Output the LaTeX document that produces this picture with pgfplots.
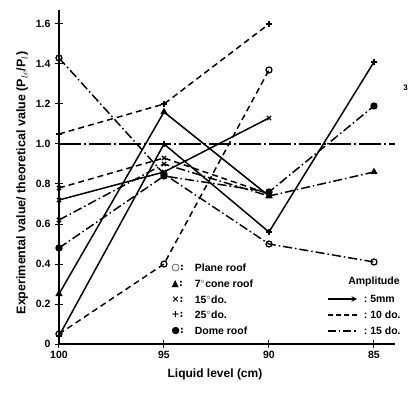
\documentclass[border=0pt]{standalone}
\usepackage{pgfplots}
\pgfplotsset{compat=1.18}
\usepackage{fontspec}
\setmainfont{Liberation Sans}
\newfontfamily\symfont{DejaVu Sans}
\tikzset{
  dd/.style={dash pattern=on 9pt off 3pt on 1.5pt off 3pt},
  ds/.style={dash pattern=on 6pt off 4pt},
}
\begin{document}
\begin{tikzpicture}
\begin{axis}[name=ax, scale only axis, width=336pt, height=334pt,
  xmin=84, xmax=100, x dir=reverse, ymin=0, ymax=1.67,
  axis x line*=bottom, axis y line*=left,
  axis line style={-, line width=1.6pt},
  xtick={100,95,90,85}, xticklabels={100,95,90,85},
  ytick={0,0.2,0.4,0.6,0.8,1.0,1.2,1.4,1.6},
  yticklabels={0,0.2,0.4,0.6,0.8,1.0,1.2,1.4,1.6},
  tick align=center, major tick length=8pt,
  tick style={black, line width=1pt},
  /pgf/number format/assume math mode=true,
  ticklabel style={font=\bfseries\fontsize{10.5}{10.5}\selectfont},
  yticklabel style={xshift=-1pt},
  xlabel={Liquid level (cm)},
  ylabel={Experimental value/ theoretical value (P$_{le}$/P$_{l}$)},
  xlabel style={font=\bfseries\fontsize{12}{12}\selectfont, xshift=-12pt, yshift=-3pt},
  ylabel style={font=\bfseries\fontsize{12.5}{12.5}\selectfont, yshift=1pt, xshift=-6pt},
  clip=false,
  every axis plot/.append style={black, line width=1.5pt, mark size=3pt, mark options={solid, line width=1.3pt}},
]
% reference line at 1.0
\addplot[line width=1.3pt, dash pattern=on 22pt off 3pt on 2pt off 3pt, mark=none] coordinates {(100,1.0) (84,1.0)};
% plane roof, 15 mm
\addplot[dd, mark=o] coordinates {(100,1.43) (95,0.85) (90,0.50) (85,0.41)};
% plane roof, 10 mm
\addplot[ds, mark=o] coordinates {(100,0.05) (95,0.40) (90,1.37)};
% 7 deg cone roof, 5 mm
\addplot[solid, mark=triangle*] coordinates {(100,0.25) (95,1.16) (90,0.74)};
\addplot[dd, mark=triangle*] coordinates {(90,0.74) (85,0.86)};
% 25 deg, 10 mm
\addplot[ds, mark=+] coordinates {(100,1.05) (95,1.20) (90,1.60)};
% 25 deg, 5 mm
\addplot[solid, mark=+] coordinates {(100,0.04) (95,1.00) (90,0.56) (85,1.41)};
% dome roof, 15 mm
\addplot[dd, mark=*] coordinates {(100,0.48) (95,0.84) (90,0.76) (85,1.19)};
% 15 deg, 5 mm
\addplot[solid, mark=x] coordinates {(100,0.72) (95,0.86) (90,1.13)};
% 15 deg, 10 mm
\addplot[ds, mark=x] coordinates {(100,0.78) (95,0.93) (90,0.75)};
% 15 deg, 15 mm
\addplot[dd, mark=x] coordinates {(100,0.62) (95,0.90) (90,0.74)};

% legend: roof types
\node[anchor=west, font=\symfont\bfseries\fontsize{9.5}{9.5}\selectfont] at (axis cs:94.8,0.38) {○:};
\node[anchor=west, font=\symfont\bfseries\fontsize{9.5}{9.5}\selectfont] at (axis cs:94.8,0.30) {▲:};
\node[anchor=west, font=\symfont\bfseries\fontsize{9.5}{9.5}\selectfont] at (axis cs:94.8,0.22) {×:};
\node[anchor=west, font=\symfont\bfseries\fontsize{9.5}{9.5}\selectfont] at (axis cs:94.8,0.145) {+:};
\node[anchor=west, font=\symfont\bfseries\fontsize{9.5}{9.5}\selectfont] at (axis cs:94.8,0.065) {●:};
\node[anchor=west, font=\bfseries\fontsize{10.5}{10.5}\selectfont] at (axis cs:93.7,0.38) {Plane roof};
\node[anchor=west, font=\bfseries\fontsize{10.5}{10.5}\selectfont] at (axis cs:93.7,0.30) {7$^{\circ}$cone roof};
\node[anchor=west, font=\bfseries\fontsize{10.5}{10.5}\selectfont] at (axis cs:93.7,0.22) {15$^{\circ}$do.};
\node[anchor=west, font=\bfseries\fontsize{10.5}{10.5}\selectfont] at (axis cs:93.7,0.145) {25$^{\circ}$do.};
\node[anchor=west, font=\bfseries\fontsize{10.5}{10.5}\selectfont] at (axis cs:93.7,0.065) {Dome roof};
% legend: amplitude
\node[font=\bfseries\fontsize{10.5}{10.5}\selectfont] at (axis cs:85.0,0.31) {Amplitude};
\draw[line width=1.5pt, -stealth] (axis cs:87.2,0.225) -- (axis cs:85.8,0.225);
\draw[line width=1.5pt, dash pattern=on 5pt off 3pt] (axis cs:87.2,0.145) -- (axis cs:85.8,0.145);
\draw[line width=1.5pt, dash pattern=on 8pt off 3pt on 1.5pt off 3pt] (axis cs:87.2,0.065) -- (axis cs:85.8,0.065);
\node[anchor=west, font=\bfseries\fontsize{10.5}{10.5}\selectfont] at (axis cs:85.65,0.225) {:\ 5mm};
\node[anchor=west, font=\bfseries\fontsize{10.5}{10.5}\selectfont] at (axis cs:85.65,0.145) {:\ 10 do.};
\node[anchor=west, font=\bfseries\fontsize{10.5}{10.5}\selectfont] at (axis cs:85.65,0.065) {:\ 15 do.};
\node[font=\bfseries\fontsize{8}{8}\selectfont] at (axis cs:83.5,1.28) {3};
\end{axis}
\path (ax.south west) ++(-59pt,-55pt) rectangle ++(420pt,399pt);
\end{tikzpicture}
\end{document}
